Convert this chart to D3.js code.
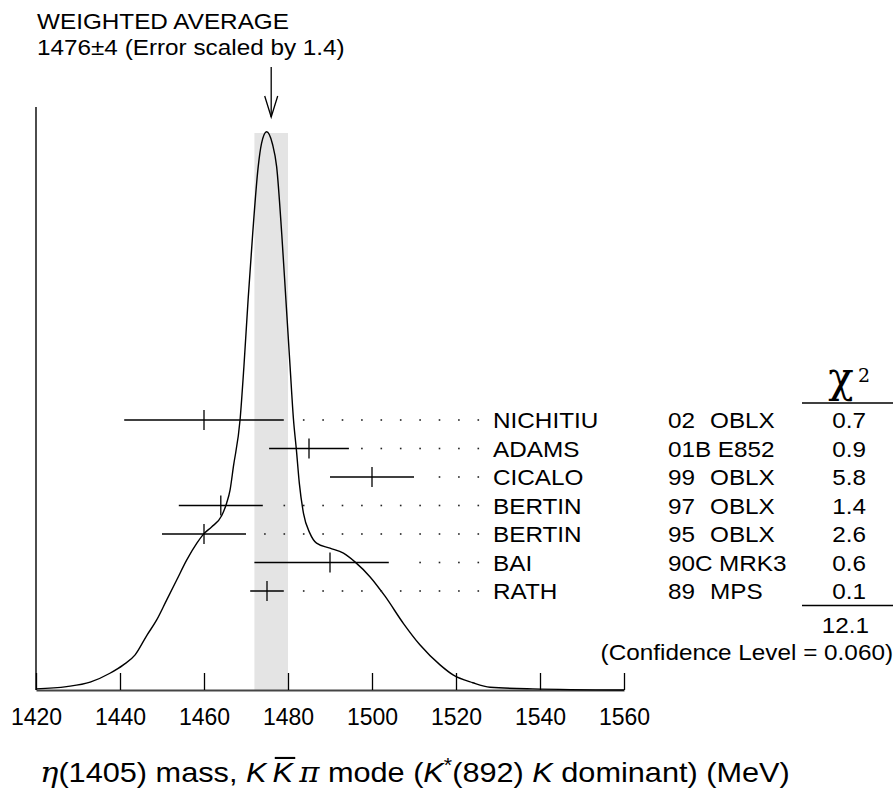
<!DOCTYPE html>
<html>
<head>
<meta charset="utf-8">
<script src="https://cdn.jsdelivr.net/npm/d3@7"></script>
<style>
  body { margin: 0; background: #fff; }
  svg { display: block; }
  text { font-family: "Liberation Sans", Arial, sans-serif; fill: #000; }
</style>
</head>
<body>
<svg id="chart" width="895" height="790"></svg>
<script>
// measurements, top row first
const names  = ["NICHITIU", "ADAMS", "CICALO", "BERTIN", "BERTIN", "BAI", "RATH"];
const years  = ["02", "01B", "99", "97", "95", "90C", "89"];
const expts  = ["OBLX", "E852", "OBLX", "OBLX", "OBLX", "MRK3", "MPS"];
const values = [1460, 1485, 1500, 1464, 1460, 1490, 1475];
const errLo  = [19, 9.5, 10, 10, 10, 18, 4];
const errHi  = [19, 9.5, 10, 10, 10, 14, 4];
const chi2   = ["0.7", "0.9", "5.8", "1.4", "2.6", "0.6", "0.1"];
const chi2Total = "12.1";
const confLevel = "0.060";

// weighted average
const avgValue = 1476;
const avgError = 4;
const errScale = "1.4";

const xTicks = [1420, 1440, 1460, 1480, 1500, 1520, 1540, 1560];

// ideogram (mass, height relative to peak)
const curveMass = [1420, 1427.3, 1432.9, 1437.6, 1440.8, 1443.6, 1446.4, 1448.7, 1451.1, 1453.5,
  1455.9, 1458.3, 1460.1, 1461.8, 1464.2, 1465.4, 1466.2, 1467.0, 1468.6, 1469.5, 1470.5,
  1471.6, 1472.9, 1473.7, 1474.9, 1476.3, 1477.3, 1478.5, 1479.5, 1480.5, 1481.3, 1482.0,
  1482.7, 1483.7, 1485.2, 1486.8, 1490.0, 1493.2, 1496.0, 1499.5, 1503.1, 1507.5, 1511.4,
  1516.2, 1519.3, 1524.0, 1528.1, 1538.3, 1560];
const curveHeight = [0.002, 0.006, 0.014, 0.030, 0.045, 0.063, 0.098, 0.125, 0.161, 0.197,
  0.233, 0.263, 0.281, 0.292, 0.312, 0.335, 0.358, 0.400, 0.485, 0.579, 0.699,
  0.818, 0.937, 0.979, 1.000, 0.978, 0.937, 0.818, 0.699, 0.579, 0.485, 0.430,
  0.370, 0.316, 0.281, 0.263, 0.254, 0.245, 0.229, 0.203, 0.168, 0.119, 0.081,
  0.045, 0.027, 0.013, 0.005, 0.002, 0];

const svg = d3.select("#chart"),
  axisY = 690,
  nameX = 493,
  yearX = 668,
  exptX = 710,
  chiX = 866,
  wide = 1.13,     // the listing font is drawn a bit wide
  fs = 21.5,
  serif = "\"DejaVu Serif\", \"Liberation Serif\", serif";

const x = d3.scaleLinear().domain([1420, 1560]).range([36, 624]);
const y = d3.scaleLinear().domain([0, 1]).range([axisY, 131.7]);
const row = d3.scalePoint().domain(d3.range(names.length)).range([420, 591]);

const label = function (px, py, str, anchor) {
  return svg.append("text")
    .attr("transform", "translate(" + px + "," + py + ") scale(" + wide + ",1)")
    .attr("text-anchor", anchor || "start")
    .style("font-size", fs + "px")
    .text(str);
};

// error band of the average
svg.append("rect")
  .attr("x", x(avgValue - avgError))
  .attr("y", 133)
  .attr("width", x(avgValue + avgError) - x(avgValue - avgError))
  .attr("height", axisY - 133)
  .attr("fill", "#e4e4e4");

// axes
svg.append("line")
  .attr("x1", 36).attr("x2", 36)
  .attr("y1", 107).attr("y2", axisY)
  .attr("stroke", "#000").attr("stroke-width", 1.4);

const xAxis = svg.append("g")
  .attr("transform", "translate(0," + axisY + ")")
  .call(d3.axisBottom(x).tickValues(xTicks).tickFormat(d3.format("d"))
    .tickSizeInner(-17).tickSizeOuter(0).tickPadding(19));
xAxis.select(".domain").attr("stroke", "#444").attr("stroke-width", 2);
xAxis.selectAll(".tick line").attr("stroke", "#000").attr("stroke-width", 1.3);
xAxis.selectAll(".tick text")
  .style("font-family", "\"Liberation Sans\", Arial, sans-serif")
  .style("font-size", "23px")
  .attr("fill", "#000");

// ideogram
const pts = curveMass.map(function (m, i) { return [m, curveHeight[i]]; });
svg.append("path")
  .datum(pts)
  .attr("fill", "none")
  .attr("stroke", "#000")
  .attr("stroke-width", 1.4)
  .attr("d", d3.line()
    .x(function (d) { return x(d[0]); })
    .y(function (d) { return y(d[1]); })
    .curve(d3.curveMonotoneX));

// arrow for the weighted average
const ax = x(avgValue);
svg.append("line")
  .attr("x1", ax).attr("x2", ax).attr("y1", 67).attr("y2", 117)
  .attr("stroke", "#000").attr("stroke-width", 1.3);
svg.append("polyline")
  .attr("points", (ax - 6.5) + ",96 " + ax + ",117 " + (ax + 6.5) + ",96")
  .attr("fill", "none").attr("stroke", "#000").attr("stroke-width", 1.3);

label(37, 29, "WEIGHTED AVERAGE");
label(37, 55, avgValue + "\u00b1" + avgError + " (Error scaled by " + errScale + ")");

// measurements
names.forEach(function (n, i) {
  const ry = row(i),
    x0 = x(values[i] - errLo[i]),
    x1 = x(values[i] + errHi[i]);

  svg.append("line")
    .attr("x1", x0).attr("x2", x1).attr("y1", ry).attr("y2", ry)
    .attr("stroke", "#000").attr("stroke-width", 1.3);
  svg.append("line")
    .attr("x1", x(values[i])).attr("x2", x(values[i]))
    .attr("y1", ry - 10).attr("y2", ry + 10)
    .attr("stroke", "#000").attr("stroke-width", 1.3);

  // dotted leader on a fixed grid
  for (let dx = 478.3; dx > x1 + 12; dx -= 19.4) {
    svg.append("rect")
      .attr("x", dx - 0.8).attr("y", ry - 0.8)
      .attr("width", 1.6).attr("height", 1.6)
      .attr("fill", "#222");
  }

  label(nameX, ry + 8, n);
  const yt = label(yearX, ry + 8, years[i]);
  const yEnd = yearX + yt.node().getComputedTextLength() * wide + 6.5;
  label(Math.max(exptX, yEnd), ry + 8, expts[i]);
  label(chiX, ry + 8, chi2[i], "end");
});

// chi-square column
svg.append("text")
  .attr("x", 841).attr("y", 392)
  .attr("text-anchor", "middle")
  .style("font-family", serif)
  .style("font-size", "42px")
  .text("\u03c7");
svg.append("text")
  .attr("x", 858).attr("y", 382)
  .style("font-family", serif)
  .style("font-size", "19px")
  .text("2");
[403, 605.5].forEach(function (ly) {
  svg.append("line")
    .attr("x1", 802).attr("x2", 893).attr("y1", ly).attr("y2", ly)
    .attr("stroke", "#000").attr("stroke-width", 1.3);
});
label(chiX + 3, 633, chi2Total, "end");
label(893, 660, "(Confidence Level = " + confLevel + ")", "end");

// axis title, condensed and tall
const tg = svg.append("g");
const title = tg.append("text").style("font-size", "21.5px");
const parts = [
  ["\u03b7", serif, "italic"],
  ["(1405) mass, ", null, null],
  ["K", null, "italic"],
  ["\u2009", null, null],
  ["K", null, "italic"],
  ["\u2009", null, null],
  ["\u03c0", serif, "italic"],
  [" mode (", null, null],
  ["K", null, "italic"],
  ["*", null, null],
  ["(892) ", null, null],
  ["K", null, "italic"],
  [" dominant) (MeV)", null, null]
];
parts.forEach(function (p, i) {
  const t = title.append("tspan").text(p[0]);
  if (p[1]) t.style("font-family", p[1]);
  if (p[2]) t.style("font-style", p[2]);
  if (i === 9) t.attr("dy", -8).style("font-size", "15px");
  else if (i === 10) t.attr("dy", 8);
});

// overline on the anti-kaon
const kIdx = ("\u03b7(1405) mass, K\u2009").length;
const k0 = title.node().getStartPositionOfChar(kIdx).x,
  k1 = title.node().getEndPositionOfChar(kIdx).x;
tg.append("line")
  .attr("x1", k0 + 1.5).attr("x2", k1 + 1.5)
  .attr("y1", -18.5).attr("y2", -18.5)
  .attr("stroke", "#000").attr("stroke-width", 1.6);

const natural = title.node().getComputedTextLength();
tg.attr("transform", "translate(40,782) scale(" + (750 / natural) + ",1.3)");
</script>
</body>
</html>
